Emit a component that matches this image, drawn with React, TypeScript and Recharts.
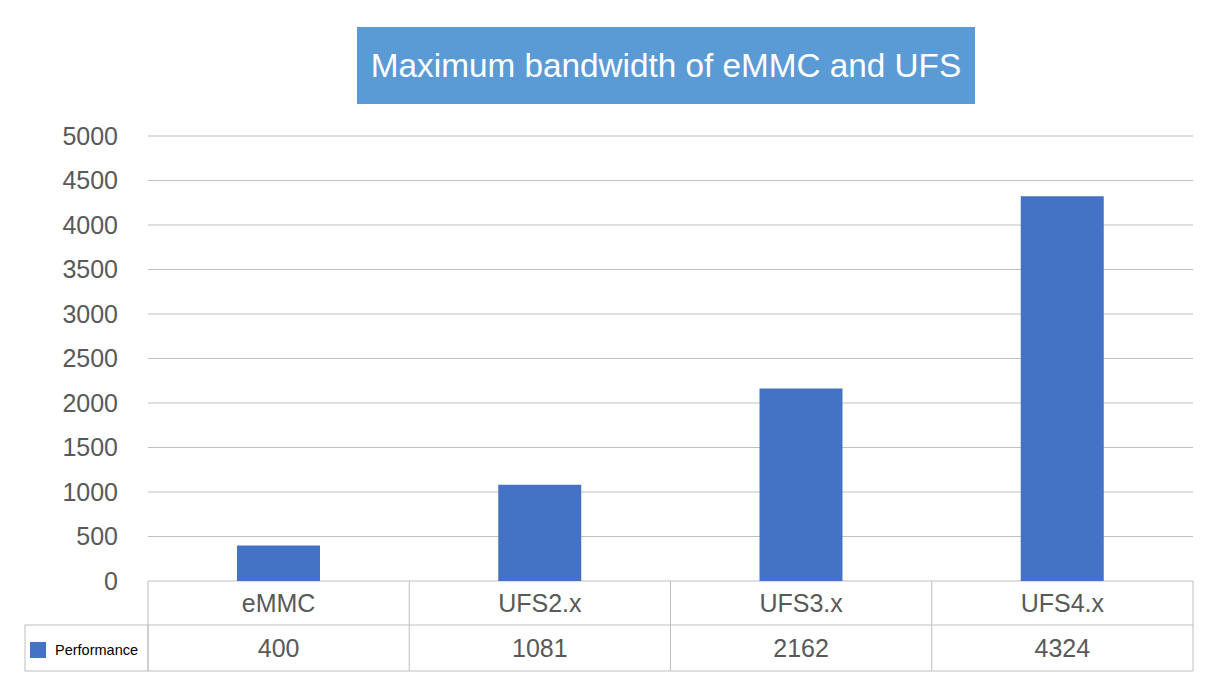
import { Bar, BarChart, CartesianGrid, XAxis, YAxis } from "recharts";

const categories = ["eMMC", "UFS2.x", "UFS3.x", "UFS4.x"];
const performance = [400, 1081, 2162, 4324];
const yTicks = [0, 500, 1000, 1500, 2000, 2500, 3000, 3500, 4000, 4500, 5000];
const seriesName = "Performance";
const title = "Maximum bandwidth of eMMC and UFS";

const data = categories.map((name, i) => ({ name, value: performance[i] }));

const W = 1220;
const H = 698;
const LEFT = 148;
const RIGHT = 27;
const TOP = 136;
const TABLE_H = 117;
const BAND = (W - LEFT - RIGHT) / categories.length;
const ROW1 = 44;
const ROW2 = 90;

const BAR_COLOR = "#4472c4";
const BORDER = "#bfbfbf";
const TEXT = "#595959";
const FONT = "'Liberation Sans', Arial, sans-serif";
const FS = 25;

function TableTick(props: any) {
  const { x, y, payload, index } = props;
  const half = BAND / 2;
  const l = x - half;
  const r = x + half;
  const last = index === categories.length - 1;
  return (
    <g>
      <line x1={l} y1={y} x2={l} y2={y + ROW2} stroke={BORDER} />
      {last && <line x1={r} y1={y} x2={r} y2={y + ROW2} stroke={BORDER} />}
      <line x1={l} y1={y + ROW1} x2={r} y2={y + ROW1} stroke={BORDER} />
      <line x1={l} y1={y + ROW2} x2={r} y2={y + ROW2} stroke={BORDER} />
      <text x={x} y={y + ROW1 / 2} textAnchor="middle" dominantBaseline="central" fontSize={FS} fill={TEXT} fontFamily={FONT}>
        {payload.value}
      </text>
      <text x={x} y={y + (ROW1 + ROW2) / 2} textAnchor="middle" dominantBaseline="central" fontSize={FS} fill={TEXT} fontFamily={FONT}>
        {performance[index]}
      </text>
      {index === 0 && (
        <g>
          <rect x={25} y={y + ROW1} width={l - 25} height={ROW2 - ROW1} fill="none" stroke={BORDER} />
          <rect x={30} y={y + 61} width={16} height={16} fill={BAR_COLOR} />
          <text x={55} y={y + 69} dominantBaseline="central" fontSize={14.5} fill="#000" fontFamily={FONT}>
            {seriesName}
          </text>
        </g>
      )}
    </g>
  );
}

export default function App() {
  return (
    <div style={{ position: "absolute", left: 0, top: 0, width: W, height: H, background: "#fff" }}>
      <div
        style={{
          position: "absolute",
          left: 357,
          top: 27,
          width: 618,
          height: 77,
          background: "#5b9bd5",
          color: "#fff",
          fontFamily: FONT,
          fontSize: 33.3,
          display: "flex",
          alignItems: "center",
          justifyContent: "center",
        }}
      >
        {title}
      </div>
      <BarChart width={W} height={H} data={data} margin={{ top: TOP, right: RIGHT, bottom: 0, left: 0 }}>
        <CartesianGrid vertical={false} stroke={BORDER} />
        <XAxis
          dataKey="name"
          axisLine={false}
          tickLine={false}
          tickSize={0}
          tickMargin={0}
          height={TABLE_H}
          interval={0}
          tick={<TableTick />}
        />
        <YAxis
          width={LEFT}
          domain={[0, 5000]}
          ticks={yTicks}
          axisLine={false}
          tickLine={false}
          tickSize={0}
          tickMargin={30}
          tick={{ fontSize: FS, fill: TEXT, fontFamily: FONT }}
        />
        <Bar dataKey="value" name={seriesName} fill={BAR_COLOR} barSize={83} isAnimationActive={false} />
      </BarChart>
    </div>
  );
}
